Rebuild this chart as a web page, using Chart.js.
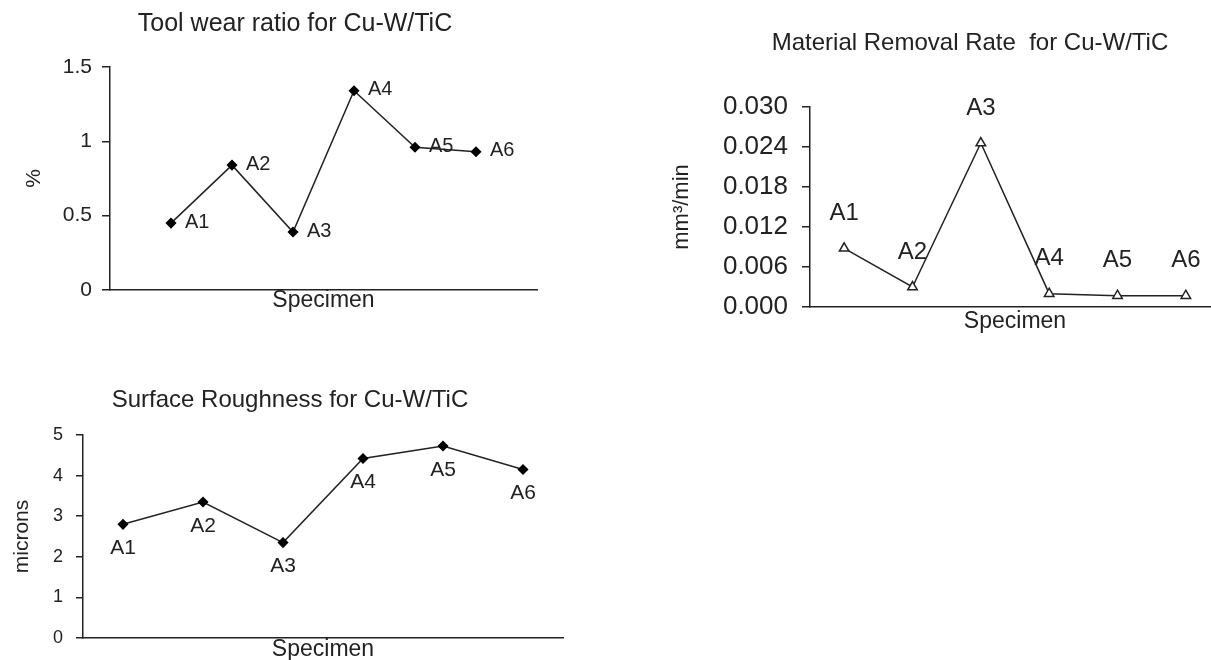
<!DOCTYPE html>
<html>
<head>
<meta charset="utf-8">
<script src="https://cdn.jsdelivr.net/npm/chart.js@4.4.1/dist/chart.umd.min.js"></script>
<style>
html, body { margin: 0; padding: 0; background: #fff; width: 1211px; height: 660px; overflow: hidden; position: relative; }
.box { position: absolute; }
</style>
</head>
<body>
<div class="box" style="left:0;top:0;width:560px;height:320px"><canvas id="wearChart"></canvas></div>
<div class="box" style="left:660px;top:0;width:570px;height:342px"><canvas id="mrrChart"></canvas></div>
<div class="box" style="left:0;top:370px;width:600px;height:300px"><canvas id="roughChart"></canvas></div>
<script>
// data
const specimens = ['A1', 'A2', 'A3', 'A4', 'A5', 'A6'];
const toolWear = [0.45, 0.84, 0.39, 1.34, 0.96, 0.93];
const removalRate = [0.0088, 0.003, 0.0246, 0.002, 0.0017, 0.0017];
const roughness = [2.8, 3.35, 2.35, 4.42, 4.73, 4.15];

const FAMILY = '"Liberation Sans", Arial, sans-serif';
const INK = '#222';
Chart.defaults.font.family = FAMILY;
Chart.defaults.color = INK;

// draws the specimen name next to each point
const pointLabels = {
    id: 'pointLabels',
    afterDatasetsDraw(chart, args, opts) {
        const ctx = chart.ctx;
        const meta = chart.getDatasetMeta(0);
        ctx.save();
        ctx.font = opts.size + 'px ' + FAMILY;
        ctx.fillStyle = INK;
        ctx.textAlign = opts.align;
        ctx.textBaseline = 'middle';
        meta.data.forEach((pt, i) => ctx.fillText(specimens[i], pt.x + opts.dx, pt.y + opts.dy));
        ctx.restore();
    }
};

function yAxis(width, title, titleSize, titlePad, tickLen, extra) {
    return Object.assign({
        position: 'left',
        afterFit: s => { s.width = width; },
        border: { display: true, color: INK, width: 1.5 },
        grid: { display: true, drawOnChartArea: false, drawTicks: true, tickLength: tickLen, color: INK, lineWidth: 1.5 },
        title: { display: true, text: title, font: { size: titleSize }, padding: { top: titlePad, bottom: 0 }, color: INK }
    }, extra);
}

function xAxis(height, padBottom, extra) {
    return Object.assign({
        afterFit: s => { s.height = height; },
        border: { display: true, color: INK, width: 1.5 },
        grid: { display: false },
        ticks: { display: false },
        title: { display: true, text: 'Specimen', font: { size: 23 }, padding: { top: 0, bottom: padBottom }, color: INK }
    }, extra);
}

function titleOpts(text, size, top, bottom) {
    return { display: true, text: text, font: { size: size, weight: 'normal' }, color: INK, padding: { top: top, bottom: bottom } };
}

// Tool wear ratio
new Chart(document.getElementById('wearChart'), {
    type: 'line',
    data: {
        datasets: [{
            data: toolWear.map((v, i) => ({ x: i + 1, y: v })),
            borderColor: INK,
            borderWidth: 1.5,
            pointStyle: 'rectRot',
            pointRadius: 4.5,
            pointBackgroundColor: '#000',
            pointBorderColor: '#000',
            tension: 0
        }]
    },
    options: {
        responsive: true,
        maintainAspectRatio: false,
        animation: false,
        layout: { padding: { left: 53, right: 23, top: 0, bottom: 0 }, autoPadding: false },
        plugins: {
            legend: { display: false },
            tooltip: { enabled: false },
            title: titleOpts('Tool wear ratio for Cu-W/TiC', 25, 9, 28),
            pointLabels: { size: 20, dx: 14, dy: -1, align: 'left' }
        },
        scales: {
            x: xAxis(30, 6, { type: 'linear', min: 0, max: specimens.length + 1 }),
            y: yAxis(57, '%', 21, -31.6, 8, {
                min: 0, max: 1.5,
                ticks: { font: { size: 21 }, padding: 10, color: INK, stepSize: 0.5, callback: v => String(v) }
            })
        }
    },
    plugins: [pointLabels]
});

// Material removal rate
new Chart(document.getElementById('mrrChart'), {
    type: 'line',
    data: {
        labels: specimens,
        datasets: [{
            data: removalRate,
            borderColor: INK,
            borderWidth: 1.5,
            pointStyle: 'triangle',
            pointRadius: 5.5,
            pointBackgroundColor: '#fff',
            pointBorderColor: INK,
            pointBorderWidth: 1.5,
            tension: 0
        }]
    },
    options: {
        responsive: true,
        maintainAspectRatio: false,
        animation: false,
        layout: { padding: { left: 60, right: 10, top: 0, bottom: 0 }, autoPadding: false },
        plugins: {
            legend: { display: false },
            tooltip: { enabled: false },
            title: titleOpts('Material Removal Rate  for Cu-W/TiC', 24, 28.6, 49.6),
            pointLabels: { size: 24, dx: 0, dy: -35, align: 'center' }
        },
        scales: {
            x: xAxis(35, 6.2, { type: 'category', offset: true }),
            y: yAxis(90, 'mm\u00b3/min', 22, -51.2, 8, {
                min: 0, max: 0.03,
                ticks: { font: { size: 26 }, padding: 14, color: INK, stepSize: 0.006, callback: v => v.toFixed(3) }
            })
        }
    },
    plugins: [pointLabels]
});

// Surface roughness
new Chart(document.getElementById('roughChart'), {
    type: 'line',
    data: {
        labels: specimens,
        datasets: [{
            data: roughness,
            borderColor: INK,
            borderWidth: 1.5,
            pointStyle: 'rectRot',
            pointRadius: 4.5,
            pointBackgroundColor: '#000',
            pointBorderColor: '#000',
            tension: 0
        }]
    },
    options: {
        responsive: true,
        maintainAspectRatio: false,
        animation: false,
        layout: { padding: { left: 17, right: 37, top: 0, bottom: 0 }, autoPadding: false },
        plugins: {
            legend: { display: false },
            tooltip: { enabled: false },
            title: titleOpts('Surface Roughness for Cu-W/TiC', 24, 15.6, 20.6),
            pointLabels: { size: 21, dx: 0, dy: 24, align: 'center' }
        },
        scales: {
            x: xAxis(32, 6.2, { type: 'category', offset: true }),
            y: yAxis(66, 'microns', 21, -7.6, 7, {
                min: 0, max: 5,
                ticks: { font: { size: 18 }, padding: 13, color: INK, stepSize: 1 }
            })
        }
    },
    plugins: [pointLabels]
});
</script>
</body>
</html>
